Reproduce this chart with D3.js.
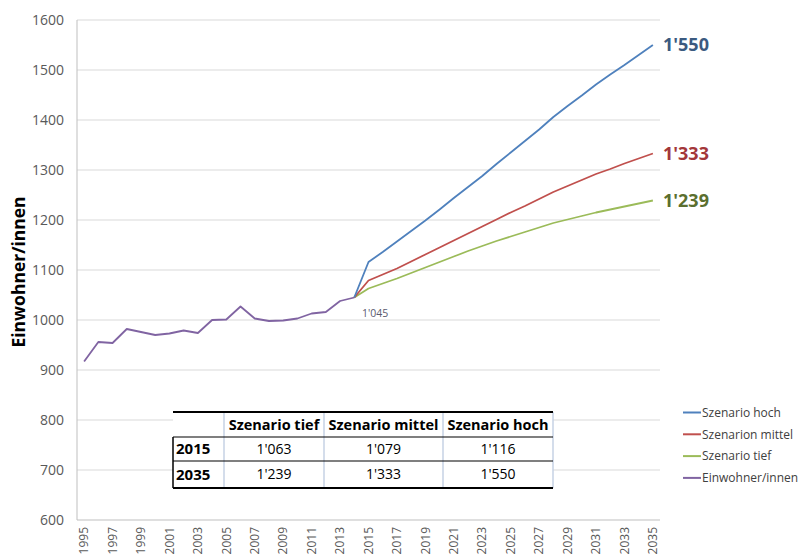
<!DOCTYPE html>
<html>
<head>
<meta charset="utf-8">
<script src="https://cdn.jsdelivr.net/npm/d3@7/dist/d3.min.js"></script>
<style>
  html, body { margin: 0; padding: 0; background: #fff; }
  svg { display: block; font-family: "Open Sans", "Noto Sans", sans-serif; }
</style>
</head>
<body>
<svg id="chart" width="801" height="557"></svg>
<script>
// Population of the municipality, 1995–2014, and three scenarios to 2035
const years = d3.range(1995, 2036);
const histYears = d3.range(1995, 2015);
const histValues = [917, 956, 954, 982, 976, 970, 973, 979, 974, 1000,
                    1001, 1027, 1003, 998, 999, 1003, 1013, 1016, 1038, 1045];
const projYears = d3.range(2014, 2036);
const hochValues = [1045, 1116, 1136, 1157, 1178, 1199, 1221, 1244, 1266, 1288, 1312,
                    1335, 1358, 1381, 1406, 1428, 1449, 1471, 1491, 1510, 1530, 1550];
const mittelValues = [1045, 1079, 1091, 1103, 1117, 1131, 1145, 1159, 1173, 1187, 1201,
                      1215, 1228, 1242, 1256, 1268, 1280, 1292, 1302, 1313, 1323, 1333];
const tiefValues = [1045, 1063, 1073, 1083, 1094, 1105, 1116, 1127, 1138, 1148, 1158,
                    1167, 1176, 1185, 1194, 1201, 1208, 1215, 1221, 1227, 1233, 1239];
const yTicks = [600, 700, 800, 900, 1000, 1100, 1200, 1300, 1400, 1500, 1600];
const xTickYears = d3.range(1995, 2036, 2);

const tableCols = ["", "Szenario tief", "Szenario mittel", "Szenario hoch"];
const tableRows = [
  ["2015", "1'063", "1'079", "1'116"],
  ["2035", "1'239", "1'333", "1'550"]
];

const legendNames = ["Szenario hoch", "Szenarion mittel", "Szenario tief", "Einwohner/innen"];

const colors = { hoch: "#4f81bd", mittel: "#c0504d", tief: "#9bbb59", hist: "#8064a2" };
const labelColors = { hoch: "#3b5a80", mittel: "#a3373a", tief: "#5b6f2f" };

const svg = d3.select("#chart");
const plot = { left: 77, right: 660, top: 20, bottom: 520 };

const x = d3.scalePoint().domain(years).range([plot.left, plot.right]).padding(0.5);
const y = d3.scaleLinear().domain([600, 1600]).range([plot.bottom, plot.top]);
const fmt = v => d3.format(",")(v).replace(/,/g, "'");

// gridlines
svg.append("g").selectAll("line").data(yTicks.filter(v => v > 600)).join("line")
  .attr("x1", plot.left).attr("x2", plot.right)
  .attr("y1", d => y(d)).attr("y2", d => y(d))
  .attr("stroke", "#d9d9d9").attr("stroke-width", 1);

// axes lines
svg.append("line").attr("x1", plot.left).attr("x2", plot.left)
  .attr("y1", plot.top).attr("y2", plot.bottom).attr("stroke", "#bfbfbf");
svg.append("line").attr("x1", plot.left).attr("x2", plot.right)
  .attr("y1", plot.bottom).attr("y2", plot.bottom).attr("stroke", "#bfbfbf");

// y tick labels
svg.append("g").selectAll("text").data(yTicks).join("text")
  .attr("x", 64).attr("y", d => y(d)).attr("dy", "0.35em")
  .attr("text-anchor", "end").attr("font-size", 14).attr("fill", "#595959")
  .text(d => d);

// x tick labels (rotated)
svg.append("g").selectAll("text").data(xTickYears).join("text")
  .attr("transform", d => `translate(${x(d)},${527}) rotate(-90)`)
  .attr("dy", "0.35em").attr("text-anchor", "end")
  .attr("font-size", 12).attr("fill", "#595959")
  .text(d => d);

// y axis title
svg.append("text")
  .attr("transform", `translate(25,272) rotate(-90)`)
  .attr("text-anchor", "middle").attr("font-size", 17.5).attr("font-weight", "bold")
  .attr("fill", "#000").text("Einwohner/innen");

const line = d3.line().x(d => x(d[0])).y(d => y(d[1]));
const series = [
  { key: "tief", yrs: projYears, vals: tiefValues },
  { key: "mittel", yrs: projYears, vals: mittelValues },
  { key: "hoch", yrs: projYears, vals: hochValues },
  { key: "hist", yrs: histYears, vals: histValues }
];
series.forEach(s => {
  svg.append("path")
    .datum(s.yrs.map((yr, i) => [yr, s.vals[i]]))
    .attr("fill", "none").attr("stroke", colors[s.key]).attr("stroke-width", 1.8)
    .attr("stroke-linejoin", "round")
    .attr("d", line);
});

// end-of-line value labels
["hoch", "mittel", "tief"].forEach(k => {
  const vals = k === "hoch" ? hochValues : k === "mittel" ? mittelValues : tiefValues;
  const v = vals[vals.length - 1];
  svg.append("text")
    .attr("x", 663).attr("y", y(v)).attr("dy", "0.35em")
    .attr("font-size", 18).attr("font-weight", "bold").attr("fill", labelColors[k])
    .text(fmt(v));
});

// value label for last observed year
svg.append("text")
  .attr("x", 362).attr("y", 313).attr("dy", "0.35em")
  .attr("font-size", 10.5).attr("fill", "#5a5a6e")
  .text(fmt(histValues[histValues.length - 1]));

// legend
const legendKeys = ["hoch", "mittel", "tief", "hist"];
const lg = svg.append("g");
legendKeys.forEach((k, i) => {
  const ly = 412.5 + i * 21.8;
  lg.append("line").attr("x1", 683).attr("x2", 701).attr("y1", ly).attr("y2", ly)
    .attr("stroke", colors[k]).attr("stroke-width", 2);
  lg.append("text").attr("x", 702).attr("y", ly).attr("dy", "0.35em")
    .attr("font-size", 12).attr("fill", "#404040").text(legendNames[i]);
});

// summary table
const colX = [173, 224, 324, 443, 553];
const rowY = [412, 437, 461, 488];
const tg = svg.append("g");
tg.append("rect").attr("x", colX[0]).attr("y", rowY[0])
  .attr("width", colX[4] - colX[0]).attr("height", rowY[3] - rowY[0]).attr("fill", "#fff");
// vertical separators
colX.slice(1).forEach(cx => {
  tg.append("line").attr("x1", cx).attr("x2", cx).attr("y1", rowY[0]).attr("y2", rowY[3])
    .attr("stroke", "#c6d2e4").attr("stroke-width", 1.5);
});
tg.append("line").attr("x1", colX[0]).attr("x2", colX[0]).attr("y1", rowY[1]).attr("y2", rowY[3])
  .attr("stroke", "#000").attr("stroke-width", 1.5);
// horizontal rules
[[rowY[0], 2], [rowY[1], 1.2], [rowY[2], 1.2], [rowY[3], 2]].forEach(([ry, w]) => {
  tg.append("line").attr("x1", colX[0]).attr("x2", colX[4]).attr("y1", ry).attr("y2", ry)
    .attr("stroke", "#000").attr("stroke-width", w);
});
// header
tableCols.forEach((c, i) => {
  if (!c) return;
  tg.append("text").attr("x", (colX[i] + colX[i + 1]) / 2).attr("y", (rowY[0] + rowY[1]) / 2)
    .attr("dy", "0.35em").attr("text-anchor", "middle")
    .attr("font-size", 14.5).attr("font-weight", "bold").attr("fill", "#000").text(c);
});
tableRows.forEach((row, r) => {
  const cy = (rowY[r + 1] + rowY[r + 2]) / 2;
  row.forEach((cell, i) => {
    const t = tg.append("text").attr("y", cy).attr("dy", "0.35em")
      .attr("font-size", 14).attr("fill", "#000").text(cell);
    if (i === 0) {
      t.attr("x", colX[0] + 3).attr("font-weight", "bold").attr("font-size", 15);
    } else {
      t.attr("x", (colX[i] + colX[i + 1]) / 2).attr("text-anchor", "middle");
    }
  });
});
</script>
</body>
</html>
